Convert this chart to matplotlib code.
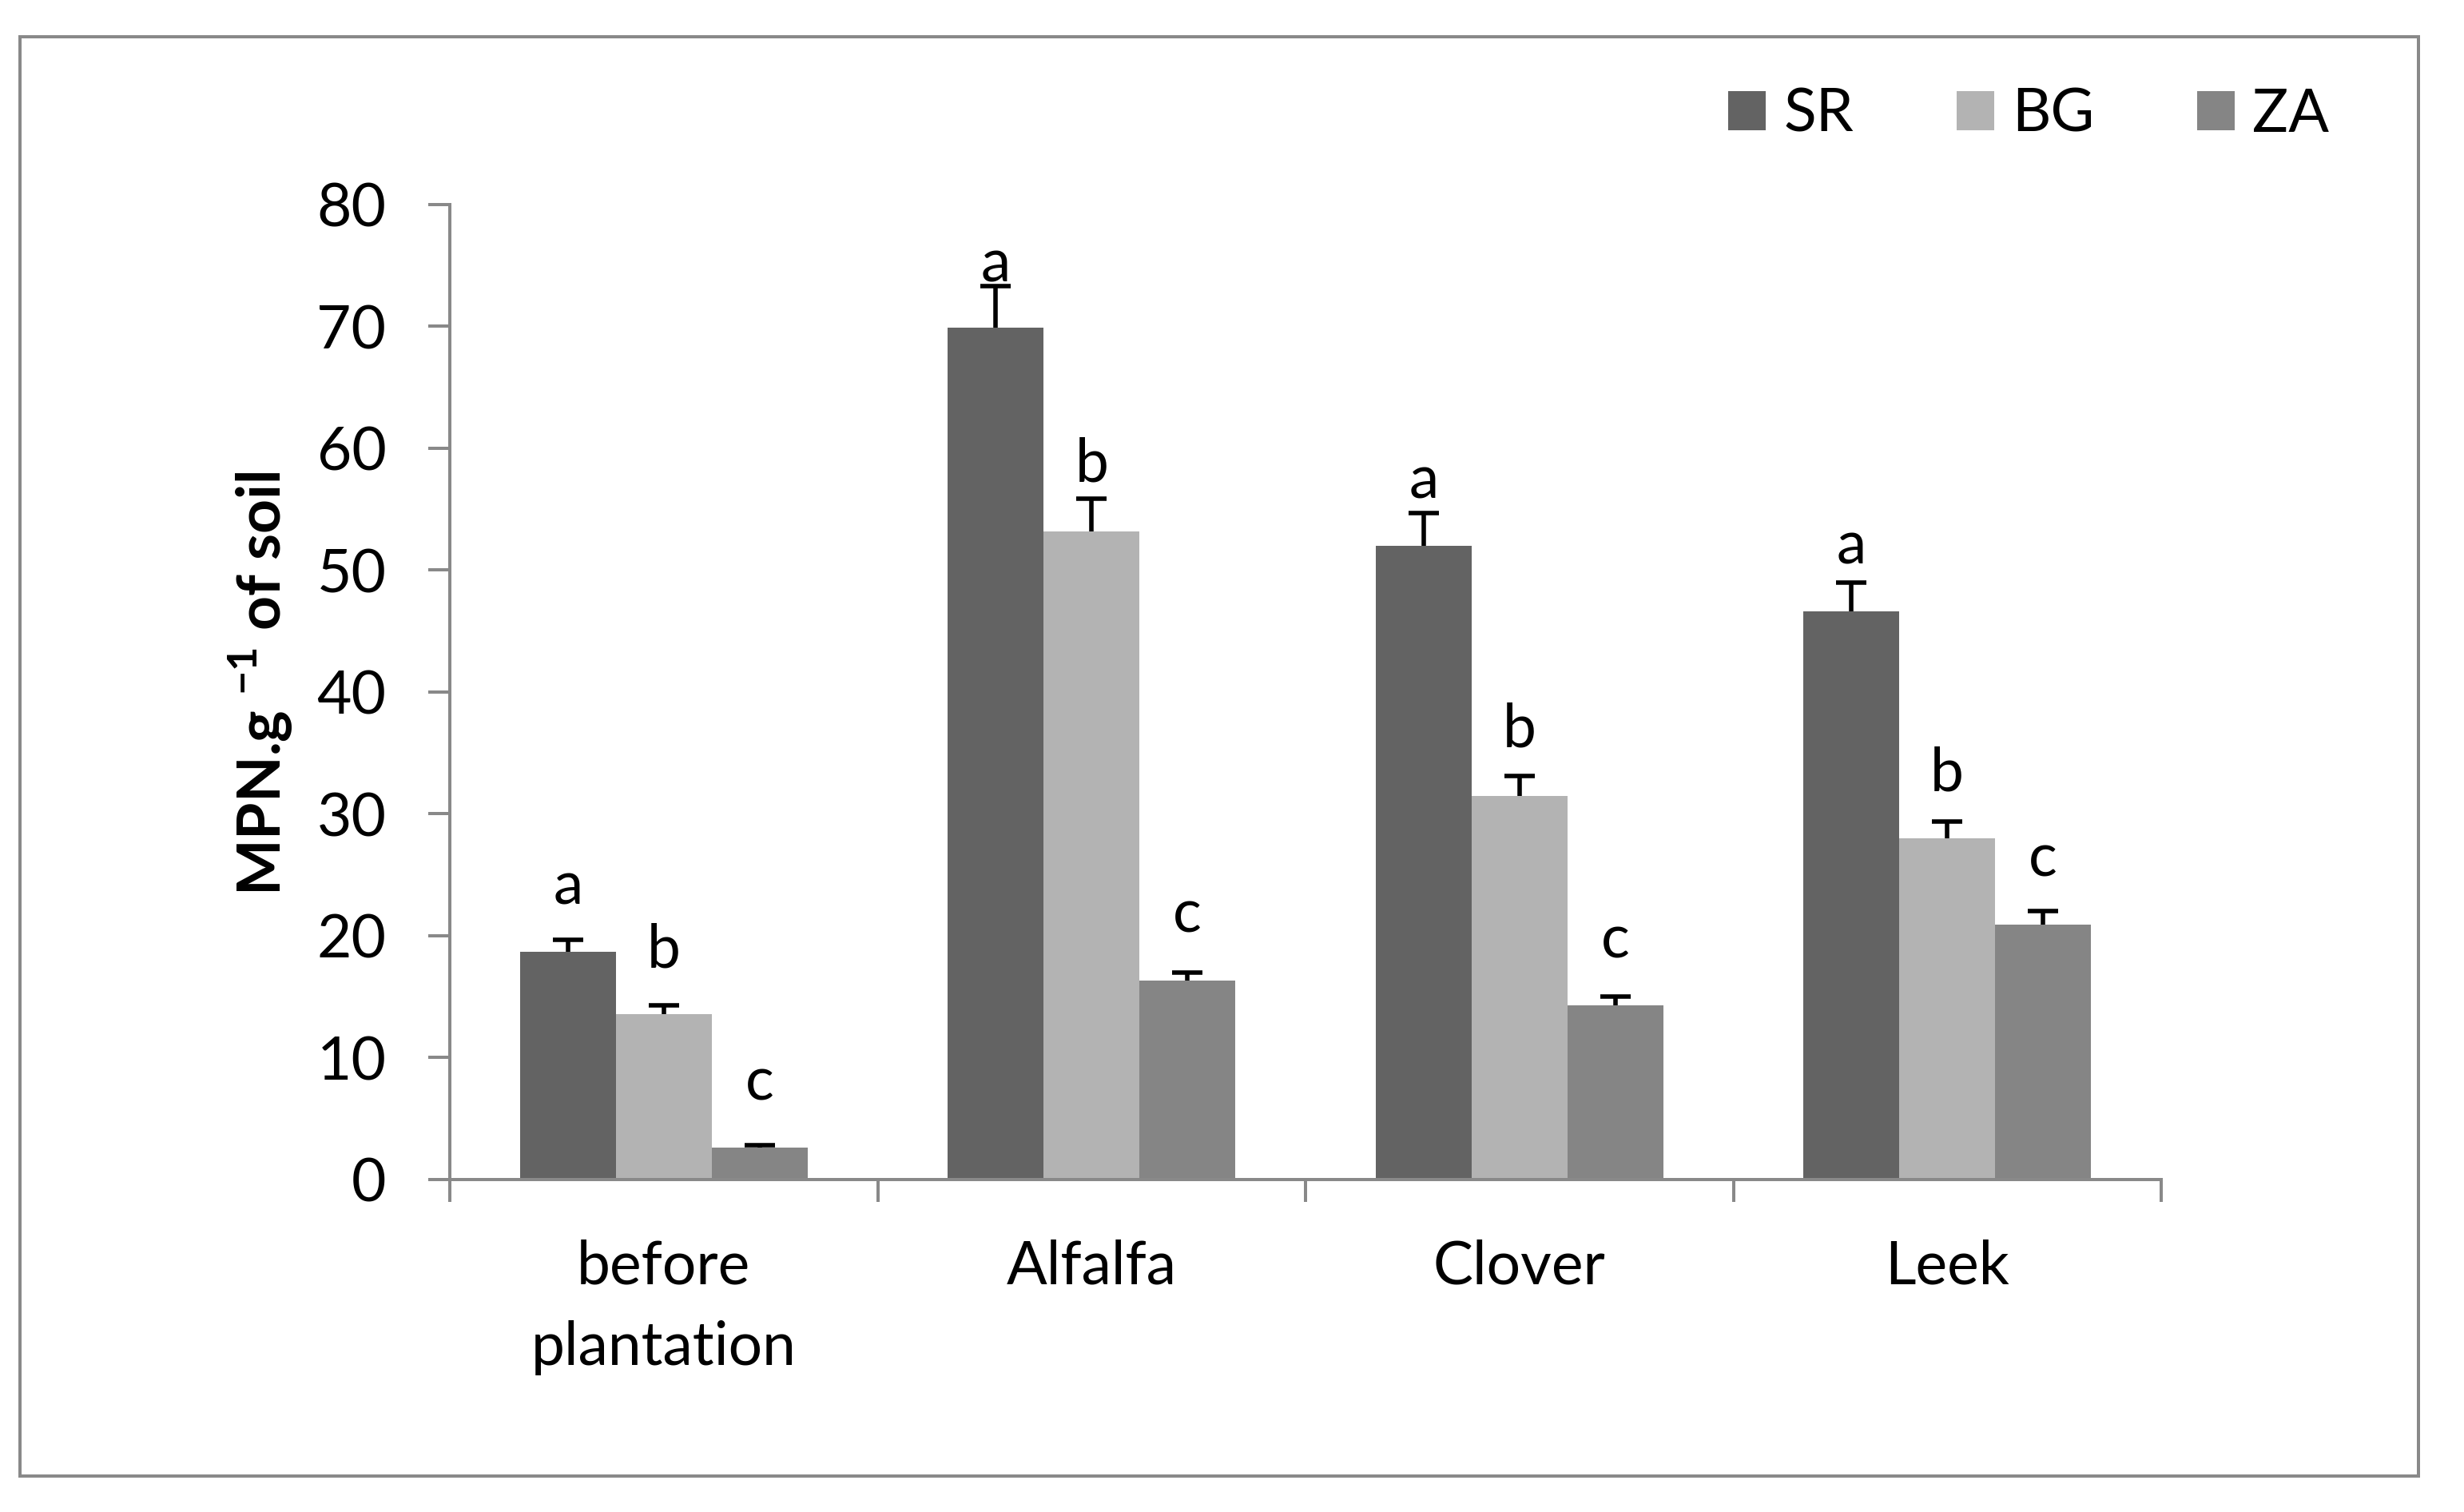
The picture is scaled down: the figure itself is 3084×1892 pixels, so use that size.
import numpy as np
import matplotlib
matplotlib.use('Agg')
import matplotlib.pyplot as plt
from matplotlib.patches import Rectangle

# data
categories = ['before\nplantation', 'Alfalfa', 'Clover', 'Leek']
series = ['SR', 'BG', 'ZA']

sr_mean = [18.7, 69.9, 52.0, 46.6]
bg_mean = [13.6, 53.2, 31.5, 28.0]
za_mean = [2.6, 16.3, 14.3, 20.9]

sr_err = [1.0, 3.4, 2.7, 2.4]
bg_err = [0.7, 2.7, 1.6, 1.4]
za_err = [0.2, 0.7, 0.7, 1.1]

# significance letters and the height of their baseline
sr_letters = ['a', 'a', 'a', 'a']
bg_letters = ['b', 'b', 'b', 'b']
za_letters = ['c', 'c', 'c', 'c']
sr_letter_y = [22.6, 73.7, 55.9, 50.5]
bg_letter_y = [17.4, 57.3, 35.5, 31.9]
za_letter_y = [6.5, 20.3, 18.2, 24.9]

yticks = [0, 10, 20, 30, 40, 50, 60, 70, 80]

colors = ['#636363', '#b3b3b3', '#858585']
axis_color = '#898989'

plt.rcParams['font.family'] = ['Lato', 'DejaVu Sans']
plt.rcParams['mathtext.fontset'] = 'custom'
plt.rcParams['mathtext.rm'] = 'Lato'
plt.rcParams['mathtext.bf'] = 'Lato:bold'

fs = 27

fig = plt.figure(figsize=(15.42, 9.46), dpi=200)
ax = fig.add_axes([0.1826, 0.2199, 0.8771 - 0.1826, 0.8647 - 0.2199])

x = np.arange(len(categories))
width = 0.224

means = [sr_mean, bg_mean, za_mean]
errs = [sr_err, bg_err, za_err]
letters = [sr_letters, bg_letters, za_letters]
letter_y = [sr_letter_y, bg_letter_y, za_letter_y]

handles = []
for i in range(3):
    xpos = x + (i - 1) * width
    b = ax.bar(xpos, means[i], width, color=colors[i], label=series[i],
               linewidth=0, zorder=3)
    handles.append(b)
    # symmetric bars drawn behind the columns, so only the upper half shows
    ax.errorbar(xpos, means[i], yerr=errs[i],
                fmt='none', ecolor='black', elinewidth=2.0,
                capsize=6.8, capthick=2.0, zorder=2)
    for xx, yy, s in zip(xpos, letter_y[i], letters[i]):
        ax.text(xx, yy, s, ha='center', va='baseline', fontsize=fs, zorder=4)

ax.set_xlim(-0.5, 3.5)
ax.set_ylim(0, 80)

ax.set_yticks(yticks)
ax.set_yticklabels([str(v) for v in yticks], fontsize=fs)
ax.tick_params(axis='y', length=9.7, width=1.44, color=axis_color, pad=19)

# category boundaries as major ticks, names on minor ticks
ax.set_xticks(np.arange(-0.5, 4.0, 1.0))
ax.set_xticklabels([])
ax.tick_params(axis='x', which='major', length=10, width=1.44,
               color=axis_color, direction='out')
ax.set_xticks(x, minor=True)
ax.set_xticklabels(categories, minor=True, fontsize=fs, linespacing=1.58)
ax.tick_params(axis='x', which='minor', length=0, pad=27)

for side in ['top', 'right']:
    ax.spines[side].set_visible(False)
for side in ['left', 'bottom']:
    ax.spines[side].set_color(axis_color)
    ax.spines[side].set_linewidth(1.44)
    ax.spines[side].set_zorder(4)

fig.text(0.1057, 0.548, r'MPN.g $^{\mathbf{-1}}$ of soil', rotation=90,
         ha='center', va='center', fontsize=fs, fontweight='bold')

leg = fig.legend(handles=handles, loc='center left',
                 bbox_to_anchor=(0.7014, 0.9244), ncol=3, frameon=False,
                 fontsize=fs, handlelength=0.63, handleheight=0.63,
                 handletextpad=0.29, columnspacing=1.72, borderpad=0,
                 borderaxespad=0)

# outer chart border
fig.patches.append(Rectangle((0.0081, 0.0238), 0.9815 - 0.0081,
                             0.9757 - 0.0238, transform=fig.transFigure,
                             fill=False, edgecolor=axis_color,
                             linewidth=1.44))

plt.savefig('out.png', dpi=200)
